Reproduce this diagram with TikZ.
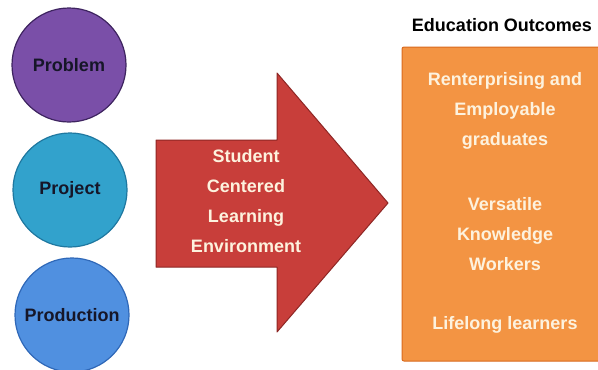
\documentclass[tikz,border=0pt]{standalone}
\usepackage{fontspec}
\setmainfont{Liberation Sans}
\definecolor{probfill}{HTML}{7A4FA8}
\definecolor{probdraw}{HTML}{3E2460}
\definecolor{projfill}{HTML}{32A2CC}
\definecolor{projdraw}{HTML}{1F78A0}
\definecolor{prodfill}{HTML}{5090E0}
\definecolor{proddraw}{HTML}{2F68B8}
\definecolor{arrfill}{HTML}{C83E3A}
\definecolor{arrdraw}{HTML}{8E2624}
\definecolor{orfill}{HTML}{F39443}
\definecolor{ordraw}{HTML}{D96A1E}
\definecolor{cream}{HTML}{FDF2DE}
\definecolor{darktext}{HTML}{161628}
\begin{document}
\begin{tikzpicture}[x=1pt,y=-1pt,
  circ/.style={circle,minimum size=114pt,inner sep=0pt,line width=1.2pt,
    font=\fontsize{18}{20}\selectfont\bfseries,text=darktext},
  light/.style={font=\fontsize{18}{30}\selectfont\bfseries,text=cream,align=center}]
\useasboundingbox[fill=white] (0,0) rectangle (598,370);
\node[circ,fill=probfill,draw=probdraw] (prob) at (69,65) {Problem};
\node[circ,fill=projfill,draw=projdraw] (proj) at (70,190) {Project};
\node[circ,fill=prodfill,draw=proddraw] (prod) at (72,315) {Production};
\draw[fill=arrfill,draw=arrdraw,line width=1pt,line join=round]
  (156,140) -- (277,140) -- (277,73) -- (388,203) -- (277,332) -- (277,267) -- (156,267) -- cycle;
\node[light] (env) at (246,201) {Student\\Centered\\Learning\\Environment};
\node[font=\fontsize{18}{20}\selectfont\bfseries,text=black] (title) at (502,25) {Education Outcomes};
\draw[fill=orfill,draw=ordraw,line width=1pt,rounded corners=2pt] (402,47) rectangle (602,361);
\node[light] (o1) at (505,111) {Renterprising and\\Employable\\graduates};
\node[light] (o2) at (505,234) {Versatile\\Knowledge\\Workers};
\node[light] (o3) at (505,325) {Lifelong learners};
\end{tikzpicture}
\end{document}
